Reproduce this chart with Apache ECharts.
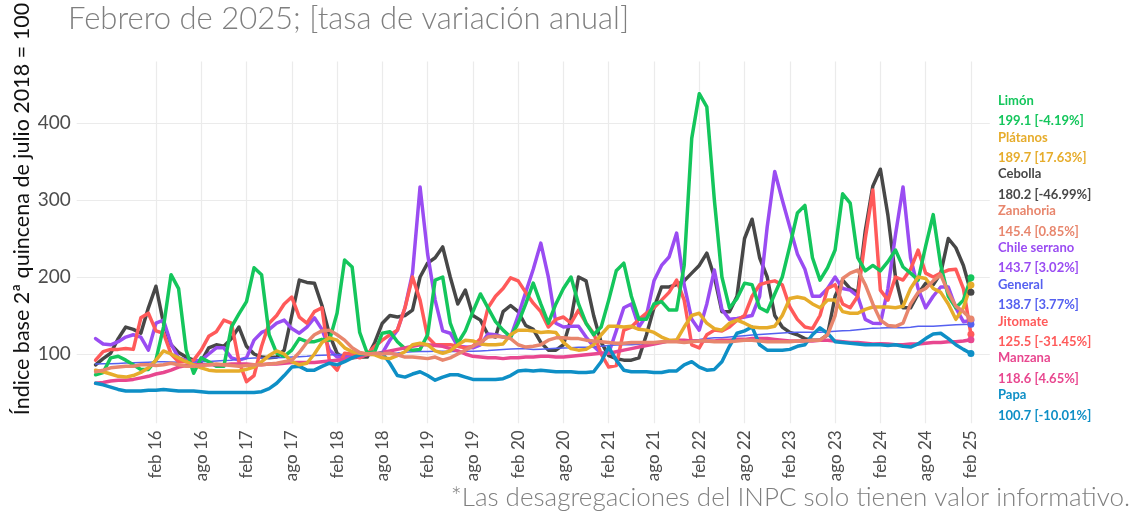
<!DOCTYPE html>
<html>
<head>
<meta charset="utf-8">
<script src="https://cdn.jsdelivr.net/npm/echarts@6/dist/echarts.min.js"></script>
<style>
  html, body { margin: 0; padding: 0; background: #fff; }
  #chart { width: 1132px; height: 519px; }
</style>
</head>
<body>
<div id="chart"></div>
<script>
// meses de jun 2015 (índice 0) a feb 2025 (índice 116)
const meses = ['ene', 'feb', 'mar', 'abr', 'may', 'jun', 'jul', 'ago', 'sep', 'oct', 'nov', 'dic']
const fechas = []
for (let k = 0; k < 117; k++) {
  const m = (5 + k) % 12
  const a = 2015 + Math.floor((5 + k) / 12)
  fechas.push(meses[m] + ' ' + String(a).slice(2))
}
// marcas del eje x: feb 16 ... feb 25
const ticksX = fechas.map((f, i) => i).filter(i => i >= 8 && /^(feb|ago)/.test(fechas[i]))
const ticksY = [100, 200, 300, 400]

const limon = [
  73, 76, 95, 97, 92, 86, 80,
  80, 92, 135, 203, 185, 105, 75, 95, 90, 84, 84, 135,
  152, 168, 212, 203, 125, 101, 97, 105, 120, 116, 116, 119,
  118, 153, 222, 213, 128, 101, 103, 127, 129, 116, 107, 105,
  106, 125, 196, 200, 140, 114, 130, 155, 178, 160, 142, 131,
  122, 140, 165, 192, 165, 140, 165, 185, 200, 165, 140, 125,
  135, 170, 208, 218, 175, 145, 145, 165, 168, 157, 157, 215,
  380, 438, 421, 300, 200, 160, 172, 192, 190, 160, 155, 178,
  200, 240, 283, 293, 225, 196, 212, 235, 308, 296, 225, 208,
  215, 208, 220, 235, 213, 205, 196, 240, 281, 215, 175, 160,
  170, 199.1
]
const platanos = [
  79, 77, 74, 71, 70, 72, 76,
  82, 92, 104, 100, 95, 90, 86, 82, 79, 78, 78, 78,
  78, 80, 83, 90, 98, 104, 100, 90, 86, 88, 100, 115,
  121, 118, 108, 103, 101, 100, 99, 95, 94, 98, 103, 112,
  114, 112, 104, 101, 104, 112, 118, 117, 113, 112, 112, 113,
  125, 131, 131, 130, 128, 129, 128, 115, 107, 105, 106, 112,
  125, 136, 136, 135, 136, 132, 131, 128, 122, 118, 118, 135,
  150, 153, 140, 133, 131, 140, 144, 140, 135, 134, 134, 136,
  150, 172, 174, 172, 165, 160, 170, 170, 155, 153, 153, 158,
  161, 161, 161, 160, 162, 185, 200, 198, 185, 180, 165, 145,
  160, 189.7
]
const cebolla = [
  86, 94, 101, 120, 135, 132, 127,
  160, 188, 140, 112, 102, 96, 92, 90, 108, 112, 110, 120,
  135, 110, 100, 96, 95, 96, 105, 150, 196, 193, 192, 163,
  125, 101, 93, 95, 96, 96, 115, 140, 150, 148, 150, 157,
  200, 218, 225, 239, 200, 165, 183, 150, 144, 125, 122, 155,
  163, 155, 137, 132, 115, 105, 105, 112, 145, 200, 195, 150,
  115, 98, 94, 92, 92, 95, 125, 160, 187, 187, 190, 195,
  205, 215, 231, 200, 155, 155, 175, 250, 275, 225, 200, 150,
  135, 128, 125, 120, 118, 118, 125, 175, 196, 185, 180, 260,
  318, 340, 280, 200, 160, 160, 178, 192, 190, 205, 250, 238,
  215, 180.2
]
const zanahoria = [
  77, 79, 82, 83, 84, 84, 86,
  86, 85, 86, 88, 86, 84, 84, 85, 86, 87, 86, 85,
  84, 85, 86, 86, 87, 88, 90, 92, 102, 115, 125, 130,
  131, 125, 118, 108, 102, 100, 101, 100, 101, 99, 96, 96,
  95, 94, 96, 92, 95, 100, 105, 110, 115, 122, 123, 122,
  120, 112, 109, 110, 112, 118, 121, 121, 120, 120, 118, 117,
  116, 115, 114, 114, 115, 115, 115, 115, 116, 116, 116, 115,
  116, 117, 117, 116, 116, 116, 117, 118, 118, 117, 116, 116,
  116, 116, 117, 117, 118, 118, 125, 150, 198, 205, 209, 190,
  165, 144, 137, 136, 140, 165, 180, 185, 195, 203, 180, 162,
  155, 145.4
]
const chile = [
  120, 113, 112, 116, 122, 125, 122,
  105, 140, 144, 113, 95, 92, 91, 92, 100, 108, 108, 95,
  92, 95, 118, 128, 132, 140, 144, 133, 127, 135, 147, 132,
  105, 96, 96, 98, 99, 100, 100, 101, 118, 131, 160, 205,
  317, 230, 170, 130, 127, 110, 109, 108, 112, 126, 125, 122,
  122, 150, 180, 210, 244, 200, 140, 135, 136, 136, 122, 110,
  101, 101, 130, 160, 165, 135, 150, 195, 215, 226, 257, 190,
  145, 131, 165, 209, 158, 145, 146, 148, 150, 175, 265, 337,
  300, 265, 230, 210, 175, 175, 185, 200, 185, 183, 175, 145,
  140, 139.5, 185, 255, 317, 225, 185, 160, 175, 187, 187, 160,
  142, 143.7
]
const general = [
  87.1, 87.2, 87.4, 87.7, 88.2, 88.7, 89.0,
  89.4, 89.8, 89.9, 89.6, 89.2, 89.3, 89.6, 89.8, 90.4, 91.0, 91.6, 92.0,
  93.6, 94.1, 94.7, 94.9, 94.8, 95.1, 95.6, 96.1, 96.5, 97.0, 98.0, 98.3,
  98.8, 99.2, 99.5, 99.2, 99.0, 99.4, 100.0, 100.5, 100.9, 101.4, 102.3, 103.0,
  103.1, 103.1, 103.5, 103.5, 103.2, 103.3, 103.7, 103.7, 104.0, 104.5, 105.3, 105.9,
  106.4, 106.9, 106.8, 105.8, 106.2, 106.7, 107.4, 107.9, 108.1, 108.8, 108.9, 109.3,
  110.2, 110.9, 111.8, 112.1, 112.0, 112.8, 113.5, 113.8, 114.6, 115.6, 117.0, 117.3,
  118.0, 118.9, 120.2, 121.0, 121.0, 122.0, 122.9, 123.8, 124.6, 125.3, 125.9, 126.5,
  127.3, 128.0, 128.4, 128.4, 128.1, 128.2, 128.8, 129.5, 130.1, 130.6, 131.4, 132.4,
  133.6, 133.7, 134.1, 134.3, 134.1, 134.6, 136.0, 136.0, 136.1, 136.7, 137.4, 138.0,
  138.3, 138.7
]
const jitomate = [
  92, 103, 106, 106, 107, 106, 147,
  153, 130, 127, 100, 90, 90, 92, 105, 123, 129, 144, 140,
  90, 64, 72, 110, 140, 150, 165, 174, 148, 140, 155, 160,
  90, 79, 101, 100, 95, 100, 110, 118, 125, 131, 160, 200,
  170, 122, 112, 112, 112, 110, 108, 110, 120, 160, 175, 185,
  199, 195, 180, 166, 155, 135, 145, 148, 140, 157, 140, 127,
  100, 83, 85, 131, 135, 145, 153, 160, 170, 180, 196, 170,
  112, 108, 125, 131, 130, 135, 144, 150, 175, 190, 193, 195,
  190, 161, 145, 135, 133, 150, 185, 190, 165, 160, 175, 250,
  313, 183, 170, 200, 196, 210, 235, 205, 200, 205, 209, 210,
  185, 125.5
]
const manzana = [
  62, 63, 65, 66, 66, 67, 69,
  71, 74, 76, 79, 83, 85, 86, 86, 86, 86, 86, 87,
  87, 87, 86, 86, 87, 87, 88, 89, 89, 89, 89, 90,
  91, 92, 93, 95, 97, 99, 100, 102, 104, 106, 108, 110,
  112, 112, 111, 110, 107, 104, 100, 97, 96, 95, 95, 94,
  95, 95, 96, 96, 97, 97, 96, 96, 97, 98, 99, 100,
  101, 101, 103, 105, 107, 109, 111, 113, 115, 117, 118, 118,
  117, 117, 117, 117, 118, 118, 119, 119, 120, 120, 120, 119,
  118, 117, 117, 117, 117, 118, 118, 117, 116, 115, 115, 114,
  113, 113.3, 113, 112, 112, 113, 113, 114, 115, 115, 116, 116,
  117, 118.6
]
const papa = [
  62, 60, 57, 54, 52, 52, 52,
  53, 53, 54, 53, 52, 52, 52, 51, 50, 50, 50, 50,
  50, 50, 50, 51, 55, 62, 72, 83, 84, 79, 79, 84,
  88, 86, 90, 95, 99, 100, 100, 101, 88, 72, 70, 74,
  77, 72, 66, 70, 73, 73, 70, 67, 67, 67, 67, 68,
  72, 78, 79, 78, 79, 78, 77, 77, 77, 76, 76, 77,
  90, 109, 92, 79, 77, 77, 77, 76, 76, 78, 78, 86,
  90, 83, 79, 80, 90, 110, 127, 130, 135, 112, 105, 105,
  105, 106, 110, 112, 125, 134, 127, 116, 115, 114, 113, 112,
  112, 112, 111, 112, 110, 109, 113, 120, 126, 127, 120, 112,
  106, 100.7
]

// etiquetas de la derecha, en el orden del gráfico
const nombres = ['Limón', 'Plátanos', 'Cebolla', 'Zanahoria', 'Chile serrano', 'General', 'Jitomate', 'Manzana', 'Papa']
const valores = [limon, platanos, cebolla, zanahoria, chile, general, jitomate, manzana, papa]
const cambios = ['-4.19%', '17.63%', '-46.99%', '0.85%', '3.02%', '3.77%', '-31.45%', '4.65%', '-10.01%']
const colores = ['#14c65c', '#e6ac2b', '#474747', '#e8866d', '#9a4cf2', '#5560f0', '#ff5a5a', '#e8478f', '#0e8fc6']

const fuente = 'Lato, "Open Sans", sans-serif'
const chart = echarts.init(document.getElementById('chart'))

// orden de dibujo alfabético, como ggplot
const ordenDibujo = ['Cebolla', 'Chile serrano', 'General', 'Jitomate', 'Limón', 'Manzana', 'Papa', 'Plátanos', 'Zanahoria']
const series = ordenDibujo.map(nombre => {
  const k = nombres.indexOf(nombre)
  const datos = valores[k]
  const ultimo = datos.length - 1
  return {
    name: nombre,
    type: 'line',
    data: datos.map((v, i) => [i, v]),
    symbol: 'circle',
    showAllSymbol: true,
    symbolSize: (v, p) => p.dataIndex === ultimo ? 7 : 0,
    itemStyle: { color: colores[k] },
    lineStyle: { color: colores[k], width: nombre === 'General' ? 1.5 : 3.5, cap: 'round', join: 'round' },
    emphasis: { disabled: true },
    animation: false
  }
})

const etiquetas = []
nombres.forEach((nombre, k) => {
  const datos = valores[k]
  const y0 = 100.7 + 36.8 * k
  etiquetas.push({
    type: 'text', x: 998, y: y0,
    style: { text: nombre, fill: colores[k], font: 'bold 13px ' + fuente, verticalAlign: 'middle' }
  })
  etiquetas.push({
    type: 'text', x: 998, y: y0 + 20.3,
    style: { text: datos[datos.length - 1].toFixed(1) + ' [' + cambios[k] + ']', fill: colores[k], font: 'bold 13px ' + fuente, verticalAlign: 'middle' }
  })
})

chart.setOption({
  animation: false,
  title: {
    text: 'Febrero de 2025; [tasa de variación anual]',
    left: 63,
    top: -2,
    textStyle: { fontFamily: fuente, fontWeight: 300, fontSize: 31, color: '#7f7f7f' }
  },
  grid: { left: 76.7, right: 142.2, top: 61.4, bottom: 95.7, containLabel: false, outerBoundsMode: 'none' },
  xAxis: {
    type: 'value',
    min: -2.5,
    max: 118.5,
    axisLine: { show: false },
    axisTick: { show: false, customValues: ticksX },
    axisLabel: {
      customValues: ticksX,
      rotate: 90,
      margin: 7,
      formatter: v => fechas[v],
      color: '#4d4d4d',
      fontFamily: fuente,
      fontSize: 17
    },
    splitLine: { show: true, lineStyle: { color: '#ebebeb', width: 1.2 } }
  },
  yAxis: {
    type: 'value',
    min: 10,
    max: 480,
    axisLine: { show: false },
    axisTick: { show: false, customValues: ticksY },
    axisLabel: { customValues: ticksY, margin: 6, color: '#4d4d4d', fontFamily: fuente, fontSize: 19 },
    splitLine: { show: true, lineStyle: { color: '#ebebeb', width: 1.2 } }
  },
  graphic: [
    {
      type: 'text', x: 22, y: 209, rotation: Math.PI / 2,
      style: { text: 'Índice base 2ª quincena de julio 2018 = 100', fill: '#111', font: '21.5px ' + fuente, align: 'center', verticalAlign: 'middle' }
    },
    {
      type: 'text', right: 2, top: 485,
      style: { text: '*Las desagregaciones del INPC solo tienen valor informativo.', fill: '#7f7f7f', font: '300 26px ' + fuente }
    }
  ].concat(etiquetas),
  series
})
</script>
</body>
</html>
